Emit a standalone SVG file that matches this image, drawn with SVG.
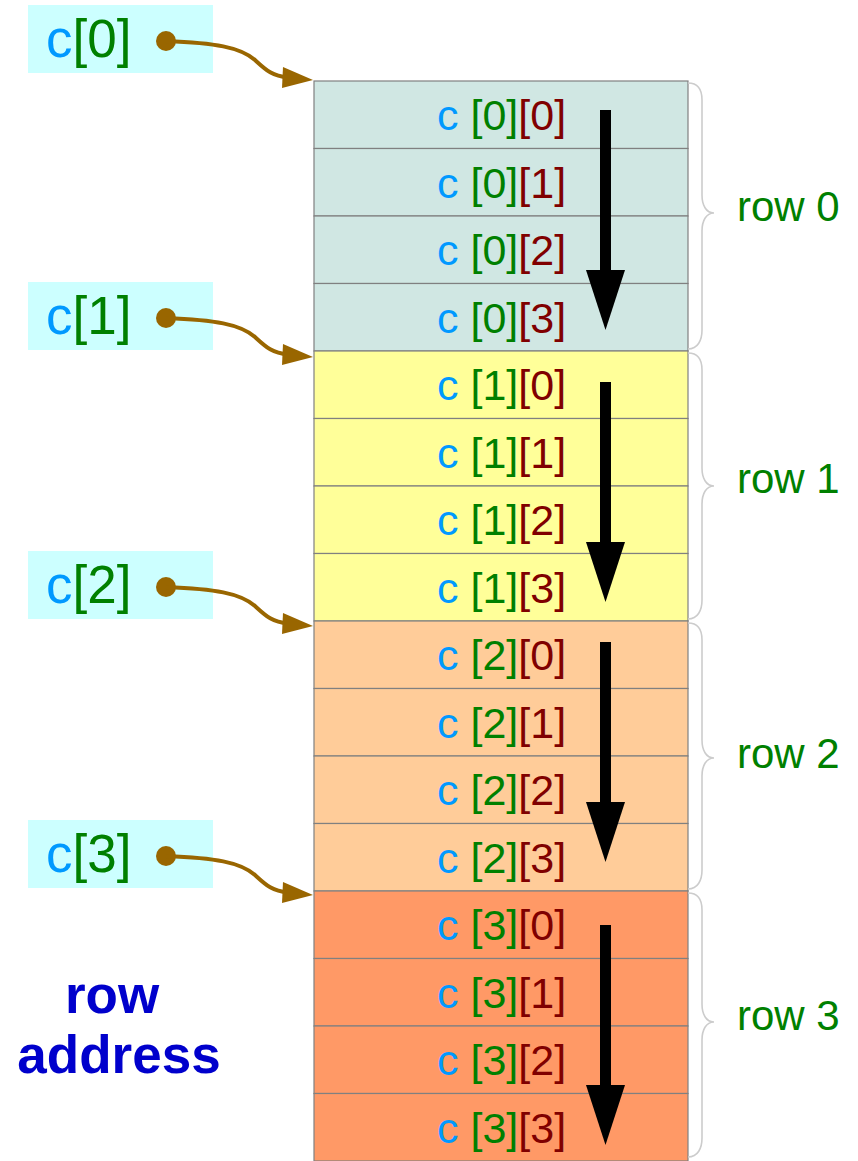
<svg xmlns="http://www.w3.org/2000/svg" width="858" height="1161" viewBox="0 0 858 1161">
<style>
text{font-family:"Liberation Sans",Arial,sans-serif}
.cell{stroke:#808080;stroke-width:1.2}
.r0{fill:#d0e7e3}.r1{fill:#ffff99}.r2{fill:#ffcc99}.r3{fill:#ff9966}
.ct{font-size:43px}
.b{fill:#0099ff}.g{fill:#008000}.d{fill:#800000}
.lbl{fill:#ccffff}
.lt{font-size:53px}
.ptr{fill:none;stroke:#996600;stroke-width:4}
.ph{fill:#996600}
.brace{fill:none;stroke:#cccccc;stroke-width:1.6}
.rowl{font-size:42px;fill:#008000}
.big{fill:#000}
.addr{font-size:53px;font-weight:bold;fill:#0000cc}
</style>
<defs>
<g id="bigarrow"><rect x="600" y="0" width="11" height="162"/><polygon points="586,160 625,160 605.5,220"/></g>
</defs>

<g id="table">
<g id="row0">
<rect class="cell r0" x="314" y="81" width="374" height="67.5"/>
<rect class="cell r0" x="314" y="148.5" width="374" height="67.5"/>
<rect class="cell r0" x="314" y="216" width="374" height="67.5"/>
<rect class="cell r0" x="314" y="283.5" width="374" height="67.5"/>
<text class="ct" x="437" y="130"><tspan class="b">c </tspan><tspan class="g">[0]</tspan><tspan class="d">[0]</tspan></text>
<text class="ct" x="437" y="197.5"><tspan class="b">c </tspan><tspan class="g">[0]</tspan><tspan class="d">[1]</tspan></text>
<text class="ct" x="437" y="265"><tspan class="b">c </tspan><tspan class="g">[0]</tspan><tspan class="d">[2]</tspan></text>
<text class="ct" x="437" y="332.5"><tspan class="b">c </tspan><tspan class="g">[0]</tspan><tspan class="d">[3]</tspan></text>
</g>
<g id="row1">
<rect class="cell r1" x="314" y="351" width="374" height="67.5"/>
<rect class="cell r1" x="314" y="418.5" width="374" height="67.5"/>
<rect class="cell r1" x="314" y="486" width="374" height="67.5"/>
<rect class="cell r1" x="314" y="553.5" width="374" height="67.5"/>
<text class="ct" x="437" y="400"><tspan class="b">c </tspan><tspan class="g">[1]</tspan><tspan class="d">[0]</tspan></text>
<text class="ct" x="437" y="467.5"><tspan class="b">c </tspan><tspan class="g">[1]</tspan><tspan class="d">[1]</tspan></text>
<text class="ct" x="437" y="535"><tspan class="b">c </tspan><tspan class="g">[1]</tspan><tspan class="d">[2]</tspan></text>
<text class="ct" x="437" y="602.5"><tspan class="b">c </tspan><tspan class="g">[1]</tspan><tspan class="d">[3]</tspan></text>
</g>
<g id="row2">
<rect class="cell r2" x="314" y="621" width="374" height="67.5"/>
<rect class="cell r2" x="314" y="688.5" width="374" height="67.5"/>
<rect class="cell r2" x="314" y="756" width="374" height="67.5"/>
<rect class="cell r2" x="314" y="823.5" width="374" height="67.5"/>
<text class="ct" x="437" y="670"><tspan class="b">c </tspan><tspan class="g">[2]</tspan><tspan class="d">[0]</tspan></text>
<text class="ct" x="437" y="737.5"><tspan class="b">c </tspan><tspan class="g">[2]</tspan><tspan class="d">[1]</tspan></text>
<text class="ct" x="437" y="805"><tspan class="b">c </tspan><tspan class="g">[2]</tspan><tspan class="d">[2]</tspan></text>
<text class="ct" x="437" y="872.5"><tspan class="b">c </tspan><tspan class="g">[2]</tspan><tspan class="d">[3]</tspan></text>
</g>
<g id="row3">
<rect class="cell r3" x="314" y="891" width="374" height="67.5"/>
<rect class="cell r3" x="314" y="958.5" width="374" height="67.5"/>
<rect class="cell r3" x="314" y="1026" width="374" height="67.5"/>
<rect class="cell r3" x="314" y="1093.5" width="374" height="67.5"/>
<text class="ct" x="437" y="940"><tspan class="b">c </tspan><tspan class="g">[3]</tspan><tspan class="d">[0]</tspan></text>
<text class="ct" x="437" y="1007.5"><tspan class="b">c </tspan><tspan class="g">[3]</tspan><tspan class="d">[1]</tspan></text>
<text class="ct" x="437" y="1075"><tspan class="b">c </tspan><tspan class="g">[3]</tspan><tspan class="d">[2]</tspan></text>
<text class="ct" x="437" y="1142.5"><tspan class="b">c </tspan><tspan class="g">[3]</tspan><tspan class="d">[3]</tspan></text>
</g>
</g>

<g id="order-arrows" class="big">
<use href="#bigarrow" y="110"/>
<use href="#bigarrow" y="382"/>
<use href="#bigarrow" y="642"/>
<use href="#bigarrow" y="925"/>
</g>

<g id="braces">
<path class="brace" d="M688,83 C698,83 702,90 702,100 L702,195 C702,205 706,213 714,213 C706,213 702,221 702,231 L702,330 C702,340 698,349 688,349"/>
<path class="brace" d="M688,353 C698,353 702,360 702,370 L702,468 C702,478 706,486 714,486 C706,486 702,494 702,504 L702,600 C702,610 698,619 688,619"/>
<path class="brace" d="M688,623 C698,623 702,630 702,640 L702,740 C702,750 706,758 714,758 C706,758 702,766 702,776 L702,870 C702,880 698,889 688,889"/>
<path class="brace" d="M688,893 C698,893 702,900 702,910 L702,1004 C702,1014 706,1022 714,1022 C706,1022 702,1030 702,1040 L702,1138 C702,1148 698,1157 688,1157"/>
</g>
<g id="row-labels">
<text class="rowl" x="737" y="221">row 0</text>
<text class="rowl" x="737" y="493">row 1</text>
<text class="rowl" x="737" y="768">row 2</text>
<text class="rowl" x="737" y="1030">row 3</text>
</g>

<g id="ptr0">
<rect class="lbl" x="28" y="5" width="185" height="68"/>
<text class="lt" x="46" y="57"><tspan class="b">c</tspan><tspan class="g">[0]</tspan></text>
</g>
<g id="ptr1" transform="translate(0,277)">
<rect class="lbl" x="28" y="5" width="185" height="68"/>
<text class="lt" x="46" y="57"><tspan class="b">c</tspan><tspan class="g">[1]</tspan></text>
</g>
<g id="ptr2" transform="translate(0,546)">
<rect class="lbl" x="28" y="5" width="185" height="68"/>
<text class="lt" x="46" y="57"><tspan class="b">c</tspan><tspan class="g">[2]</tspan></text>
</g>
<g id="ptr3" transform="translate(0,815)">
<rect class="lbl" x="28" y="5" width="185" height="68"/>
<text class="lt" x="46" y="57"><tspan class="b">c</tspan><tspan class="g">[3]</tspan></text>
</g>

<g id="connectors">
<g id="conn0">
<circle class="ph" cx="166" cy="41" r="10"/>
<path class="ptr" d="M166,41 C215,43 240,47 255,60 C266,70 272,76 288,77.5"/>
<polygon class="ph" points="283,67 313,80 282,88"/>
</g>
<g id="conn1" transform="translate(0,277)">
<circle class="ph" cx="166" cy="41" r="10"/>
<path class="ptr" d="M166,41 C215,43 240,47 255,60 C266,70 272,76 288,77.5"/>
<polygon class="ph" points="283,67 313,80 282,88"/>
</g>
<g id="conn2" transform="translate(0,546)">
<circle class="ph" cx="166" cy="41" r="10"/>
<path class="ptr" d="M166,41 C215,43 240,47 255,60 C266,70 272,76 288,77.5"/>
<polygon class="ph" points="283,67 313,80 282,88"/>
</g>
<g id="conn3" transform="translate(0,815)">
<circle class="ph" cx="166" cy="41" r="10"/>
<path class="ptr" d="M166,41 C215,43 240,47 255,60 C266,70 272,76 288,77.5"/>
<polygon class="ph" points="283,67 313,80 282,88"/>
</g>
</g>

<g id="row-address">
<text class="addr" x="112" y="1013" text-anchor="middle">row</text>
<text class="addr" x="119" y="1073" text-anchor="middle">address</text>
</g>
</svg>
